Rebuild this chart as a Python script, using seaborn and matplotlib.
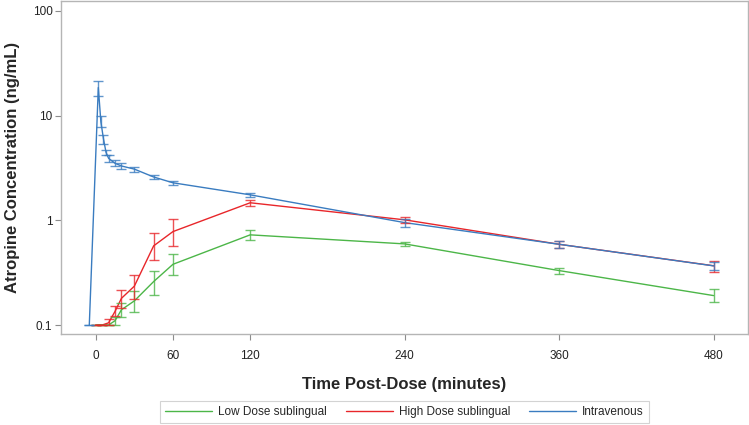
import numpy as np
import pandas as pd
import matplotlib
matplotlib.use("Agg")
import matplotlib.pyplot as plt
import matplotlib.ticker as mticker
import seaborn as sns

# datos (media y limites de la barra de error)
grupos = ["Low Dose sublingual", "High Dose sublingual", "Intravenous"]
colores = ["#4cb648", "#e8262a", "#3a7cc0"]

t_low = [0, 5, 10, 15, 20, 30, 45, 60, 120, 240, 360, 480]
m_low = [0.1, 0.1, 0.1, 0.11, 0.14, 0.17, 0.26, 0.38, 0.726, 0.595, 0.331, 0.191]
lo_low = [0.1, 0.1, 0.1, 0.1, 0.118, 0.134, 0.194, 0.30, 0.65, 0.569, 0.308, 0.167]
hi_low = [0.1, 0.1, 0.1, 0.12, 0.161, 0.213, 0.329, 0.474, 0.81, 0.627, 0.353, 0.22]

t_high = [0, 5, 10, 15, 20, 30, 45, 60, 120, 240, 360, 480]
m_high = [0.1, 0.1, 0.105, 0.135, 0.18, 0.235, 0.57, 0.78, 1.47, 1.01, 0.59, 0.368]
lo_high = [0.1, 0.1, 0.1, 0.121, 0.145, 0.176, 0.42, 0.57, 1.37, 0.95, 0.54, 0.324]
hi_high = [0.1, 0.1, 0.114, 0.152, 0.218, 0.30, 0.75, 1.02, 1.57, 1.08, 0.64, 0.412]

t_iv = [-5, 2, 4, 6, 8, 10, 15, 20, 30, 45, 60, 120, 240, 360, 480]
m_iv = [0.1, 18.5, 8.7, 6.0, 4.45, 3.9, 3.5, 3.3, 3.08, 2.59, 2.28, 1.75, 0.95, 0.59, 0.367]
lo_iv = [0.1, 15.4, 7.7, 5.4, 4.2, 3.6, 3.3, 3.1, 2.92, 2.47, 2.18, 1.66, 0.87, 0.54, 0.336]
hi_iv = [0.1, 21.5, 9.8, 6.5, 4.7, 4.2, 3.75, 3.5, 3.26, 2.71, 2.39, 1.84, 1.02, 0.64, 0.398]

x_ticks = [0, 60, 120, 240, 360, 480]
y_ticks = [0.1, 1, 10, 100]
y_labels = ["0.1", "1", "10", "100"]

sns.set_theme(style="white")
plt.rcParams["font.family"] = ["Liberation Sans", "DejaVu Sans"]

series = [(t_low, m_low, lo_low, hi_low), (t_high, m_high, lo_high, hi_high),
          (t_iv, m_iv, lo_iv, hi_iv)]

# tabla larga para seaborn
partes = []
for g, (t, m, lo, hi) in zip(grupos, series):
    partes.append(pd.DataFrame({"Tiempo": t, "Conc": m, "lo": lo, "hi": hi, "Grupo": g}))
df = pd.concat(partes, ignore_index=True)

fig = plt.figure(figsize=(7.49, 4.25), dpi=100)
ax = fig.add_axes([0.0821, 0.214, 0.916, 0.7836])

sns.lineplot(data=df, x="Tiempo", y="Conc", hue="Grupo", hue_order=grupos,
             palette=colores, estimator=None, sort=False, linewidth=1.0, ax=ax)

# barras de error
for g, c in zip(grupos, colores):
    d = df[df["Grupo"] == g]
    ax.errorbar(d["Tiempo"], d["Conc"], yerr=[d["Conc"] - d["lo"], d["hi"] - d["Conc"]],
                fmt="none", ecolor=c, elinewidth=1.0, capsize=3.8, capthick=1.0, alpha=0.8)

ax.set_yscale("log")
ax.set_ylim(0.082, 124)
ax.set_xlim(-26.6, 506.4)
ax.set_yticks(y_ticks)
ax.set_yticklabels(y_labels)
ax.yaxis.set_minor_locator(mticker.NullLocator())
ax.set_xticks(x_ticks)

ax.tick_params(axis="both", which="major", direction="out", length=4.5, width=0.8,
               color="#8c8c8c", labelsize=8.5, labelcolor="#222222", pad=2,
               bottom=True, left=True)
ax.tick_params(axis="x", pad=7)
for s in ax.spines.values():
    s.set_color("#b5b5b5")
    s.set_linewidth(1.0)

ax.set_xlabel("Time Post-Dose (minutes)", fontsize=12, weight="bold", labelpad=11)
ax.set_ylabel("Atropine Concentration (ng/mL)", fontsize=12, weight="bold", labelpad=9)

# leyenda abajo en una fila
handles, labels = ax.get_legend_handles_labels()
ax.legend_.remove()
leg = fig.legend(handles, labels, loc="center", bbox_to_anchor=(0.540, 0.0306), ncol=3,
                 fontsize=8.5, frameon=True, fancybox=False, handlelength=4.0,
                 columnspacing=1.6, handletextpad=0.5, borderpad=0.45, borderaxespad=0)
leg.get_frame().set_edgecolor("#c8c8c8")
leg.get_frame().set_linewidth(0.8)

fig.savefig("out.png", dpi=100)
